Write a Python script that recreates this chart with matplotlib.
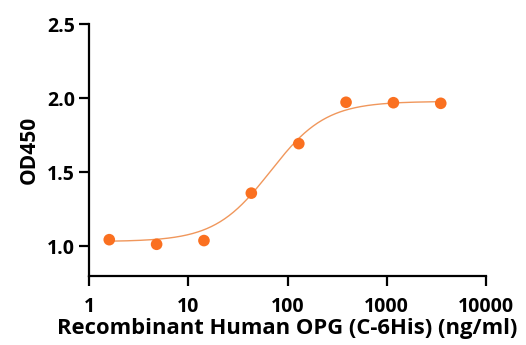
import numpy as np
import matplotlib; matplotlib.use('Agg')
import matplotlib.pyplot as plt
from matplotlib.ticker import FixedLocator, NullLocator, FixedFormatter

plt.rcParams['font.family'] = ['Open Sans', 'DejaVu Sans']
plt.rcParams['font.weight'] = 'bold'

# measured points (3-fold dilution series)
conc = [1.6, 4.8, 14.4, 43.2, 130, 389, 1167, 3500]
od450 = [1.045, 1.014, 1.039, 1.359, 1.693, 1.972, 1.969, 1.965]

# 4PL fit parameters
bottom, top, ec50, hill = 1.032, 1.978, 67.0, 1.55

x_ticks = [1, 10, 100, 1000, 10000]
x_labels = ['1', '10', '100', '1000', '10000']
y_ticks = [1.0, 1.5, 2.0, 2.5]

fig = plt.figure(figsize=(5.26, 3.45), dpi=100)
ax = fig.add_axes([89/526, (345-276)/345, (486-89)/526, (276-24)/345])

xc = np.logspace(np.log10(1.6), np.log10(3500), 300)
yc = bottom + (top - bottom) / (1 + (ec50 / xc) ** hill)
ax.plot(xc, yc, color='#F0975C', linewidth=1.0, zorder=2)
ax.scatter(conc, od450, s=70, color='#FA7020', edgecolors='none', zorder=3)

ax.set_xscale('log')
ax.set_xlim(1, 10000)
ax.set_ylim(0.8, 2.5)
ax.xaxis.set_major_locator(FixedLocator(x_ticks))
ax.xaxis.set_major_formatter(FixedFormatter(x_labels))
ax.xaxis.set_minor_locator(NullLocator())
ax.set_yticks(y_ticks)
ax.set_yticklabels([f'{v:.1f}' for v in y_ticks])

for s in ['top', 'right']:
    ax.spines[s].set_visible(False)
for s in ['left', 'bottom']:
    ax.spines[s].set_linewidth(1.6)
ax.tick_params(axis='both', width=1.6, length=7, labelsize=14, pad=3)
ax.tick_params(axis='x', pad=8)

ax.set_xlabel('Recombinant Human OPG (C-6His) (ng/ml)', fontsize=15.8, fontweight='bold', labelpad=1)
ax.set_ylabel('OD450', fontsize=15, fontweight='bold', labelpad=5)

plt.savefig('out.png', dpi=100)
plt.close()
